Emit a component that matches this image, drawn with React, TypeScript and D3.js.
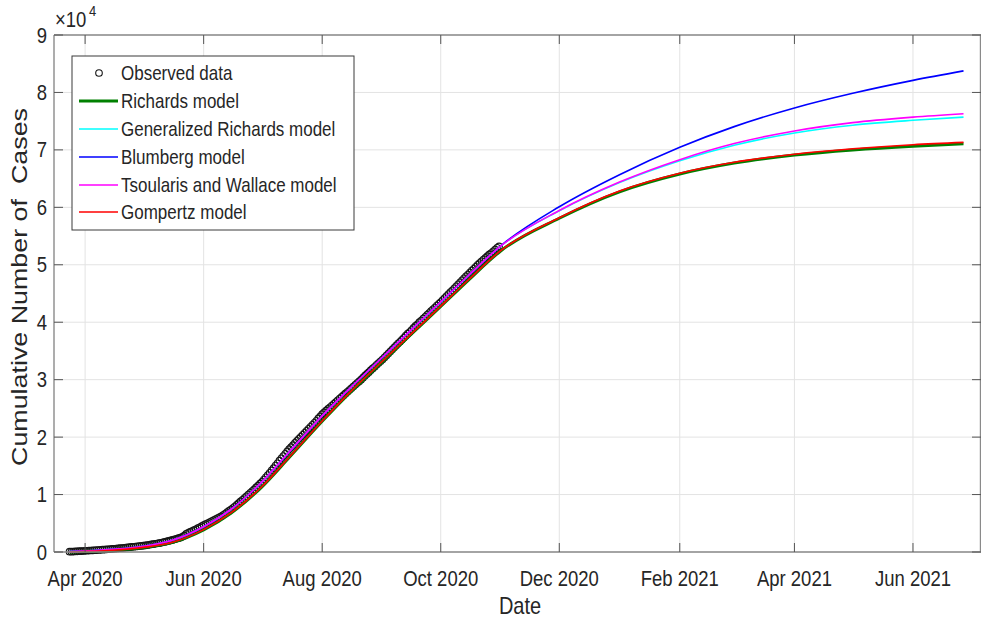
import React from "react";
import * as d3 from "d3";

// ---------- DATA ----------
const observedStart = "2020-03-24";
// daily cumulative cases (observed)
const observedCases = [
  50, 62, 80, 98, 115, 135, 150, 172, 200,
  218, 240, 262, 280, 305, 330, 352, 375, 400,
  425, 455, 480, 510, 540, 570, 600, 630, 665, 700,
  735, 770, 805, 840, 880, 915, 950, 990, 1030, 1065, 1100,
  1150, 1200, 1250, 1310, 1360, 1420, 1480, 1540, 1600,
  1680, 1760, 1840, 1930, 2020, 2110, 2200, 2300, 2400, 2500,
  2650, 2850, 3150, 3350, 3500, 3650, 3800, 3950, 4150, 4300, 4500, 4700,
  4850, 5000, 5180, 5350, 5520, 5700, 5860, 6030, 6200,
  6420, 6650, 6900, 7150, 7400, 7650, 7900,
  8200, 8500, 8800, 9100, 9400, 9700, 10000,
  10300, 10600, 10900, 11250, 11550, 11900, 12200,
  12600, 13000, 13400, 13800, 14200, 14600, 15050, 15450, 15900,
  16300, 16700, 17100, 17500, 17900, 18250, 18600, 19000,
  19350, 19700, 20050, 20400, 20750, 21100, 21450, 21800, 22150, 22500, 22850, 23250, 23600, 24000,
  24300, 24600, 24900, 25200, 25500, 25800, 26100, 26400, 26700, 27000, 27300, 27600, 27900, 28200, 28500, 28800, 29100, 29400, 29700, 30000,
  30350, 30700, 31000, 31300, 31650, 31950, 32250, 32600, 32900, 33200, 33500,
  33850, 34200, 34550, 34900, 35250, 35600, 35950, 36300, 36600, 36950, 37300, 37650, 38000, 38300, 38650, 39000, 39350, 39650, 40000,
  40300, 40650, 40950, 41300, 41600, 41950, 42250, 42550, 42900, 43200, 43500,
  43850, 44200, 44550, 44900, 45250, 45550, 45900, 46250, 46600, 46950, 47300, 47650, 48000, 48300, 48650, 49000, 49300, 49650, 50000,
  50300, 50600, 50900, 51200, 51500, 51800, 52050, 52350, 52650, 52950, 53200,
];

const modelDates = [
  "2020-03-24", "2020-04-15", "2020-05-01", "2020-05-15", "2020-06-01", "2020-06-15",
  "2020-07-01", "2020-07-15", "2020-08-01", "2020-08-15", "2020-09-01", "2020-09-15",
  "2020-10-01", "2020-10-15", "2020-11-01", "2020-12-01", "2021-01-01", "2021-02-01",
  "2021-03-01", "2021-04-01", "2021-05-01", "2021-06-01", "2021-06-27",
];
const richards = [
  0, 290, 780, 1580, 3850, 6750, 11350, 16450, 22750, 27650, 33150, 37650,
  42750, 47250, 52450, 58100, 62700, 65800, 67700, 69100, 70000, 70650, 71050,
];
const generalizedRichards = [
  60, 450, 1000, 1950, 4400, 7400, 12200, 17400, 23700, 28400, 33900, 38400,
  43500, 48000, 53300, 59400, 64300, 68100, 70800, 72950, 74300, 75150, 75700,
];
const blumberg = [
  60, 450, 1000, 1950, 4400, 7400, 12200, 17400, 23700, 28400, 33900, 38400,
  43550, 48050, 53350, 60100, 65680, 70450, 74050, 77300, 79850, 82100, 83750,
];
const tsoularisWallace = [
  60, 450, 1000, 1950, 4400, 7400, 12200, 17400, 23700, 28400, 33900, 38400,
  43550, 48050, 53300, 59450, 64400, 68300, 71100, 73300, 74750, 75700, 76300,
];
const gompertz = [
  0, 300, 800, 1600, 3900, 6800, 11400, 16500, 22800, 27700, 33200, 37700,
  42800, 47300, 52500, 58200, 62850, 65950, 67850, 69250, 70200, 70900, 71300,
];

const xTickDates = [
  "2020-04-01", "2020-06-01", "2020-08-01", "2020-10-01", "2020-12-01",
  "2021-02-01", "2021-04-01", "2021-06-01",
];
const xTickLabels = [
  "Apr 2020", "Jun 2020", "Aug 2020", "Oct 2020", "Dec 2020",
  "Feb 2021", "Apr 2021", "Jun 2021",
];
const yTicks = [0, 1, 2, 3, 4, 5, 6, 7, 8, 9];
const xDomain = ["2020-03-16", "2021-07-06"];

const seriesNames = [
  "Observed data",
  "Richards model",
  "Generalized Richards model",
  "Blumberg model",
  "Tsoularis and Wallace model",
  "Gompertz model",
];

// ---------- CHART ----------
const W = 981;
const H = 622;
const M = { left: 54, right: 981, top: 35, bottom: 552 };
const FONT = "'Liberation Sans', Arial, Helvetica, sans-serif";
const TXT = "#262626";
const SY = 1.18; // vertical text stretch

const parse = d3.utcParse("%Y-%m-%d");

export default function App() {
  const x = d3
    .scaleUtc()
    .domain(xDomain.map((d) => parse(d) as Date))
    .range([M.left, M.right]);
  const y = d3.scaleLinear().domain([0, 90000]).range([M.bottom, M.top]);

  const start = parse(observedStart) as Date;
  const obs = observedCases.map((v, i) => ({ d: d3.utcDay.offset(start, i), v }));
  const md = modelDates.map((d) => parse(d) as Date);

  const line = d3
    .line<number>()
    .x((_, i) => x(md[i]))
    .y((v) => y(v))
    .curve(d3.curveMonotoneX);

  const models = [
    { name: seriesNames[1], vals: richards, color: "#008000", w: 3 },
    { name: seriesNames[2], vals: generalizedRichards, color: "#00ffff", w: 1.6 },
    { name: seriesNames[3], vals: blumberg, color: "#0000ff", w: 1.6 },
    { name: seriesNames[4], vals: tsoularisWallace, color: "#ff00ff", w: 1.6 },
    { name: seriesNames[5], vals: gompertz, color: "#ff0000", w: 1.6 },
  ];

  const stretched = (tx: number, ty: number, content: React.ReactNode, props: any = {}) => (
    <text
      transform={`translate(${tx},${ty}) scale(1,${SY})`}
      fontFamily={FONT}
      fill={TXT}
      {...props}
    >
      {content}
    </text>
  );

  const legendX = 72;
  const legendY = 56;
  const legendW = 282;
  const legendH = 174;
  const rowY = [73, 101, 129, 157, 185, 212];

  return (
    <svg
      width={W}
      height={H}
      style={{ position: "absolute", left: 0, top: 0, background: "#fff" }}
    >
      <rect x={0} y={0} width={W} height={H} fill="#fff" />
      {/* grid */}
      <g stroke="#e3e3e3" strokeWidth={1}>
        {xTickDates.map((d) => {
          const xx = x(parse(d) as Date);
          return <line key={d} x1={xx} x2={xx} y1={M.top} y2={M.bottom} />;
        })}
        {yTicks.map((t) => (
          <line key={t} x1={M.left} x2={M.right} y1={y(t * 1e4)} y2={y(t * 1e4)} />
        ))}
      </g>

      {/* observed */}
      <g fill="none" stroke="#151515" strokeWidth={1.1}>
        {obs.map((p, i) => (
          <circle key={i} cx={x(p.d)} cy={y(p.v)} r={3.3} />
        ))}
      </g>

      {/* models */}
      {models.map((m) => (
        <path key={m.name} d={line(m.vals) || ""} fill="none" stroke={m.color} strokeWidth={m.w} />
      ))}

      {/* axes box */}
      <g stroke="#8a8a8a" strokeWidth={1.4} fill="none">
        <line x1={M.left} x2={M.right} y1={M.bottom} y2={M.bottom} />
        <line x1={M.left} x2={M.right} y1={M.top} y2={M.top} />
        <line x1={M.left} x2={M.left} y1={M.top} y2={M.bottom} />
        <line x1={M.right - 0.5} x2={M.right - 0.5} y1={M.top} y2={M.bottom} />
      </g>
      {/* ticks */}
      <g stroke="#555" strokeWidth={1}>
        {xTickDates.map((d) => {
          const xx = x(parse(d) as Date);
          return (
            <g key={d}>
              <line x1={xx} x2={xx} y1={M.bottom} y2={M.bottom - 9} />
              <line x1={xx} x2={xx} y1={M.top} y2={M.top + 9} />
            </g>
          );
        })}
        {yTicks.map((t) => (
          <g key={t}>
            <line x1={M.left} x2={M.left + 9} y1={y(t * 1e4)} y2={y(t * 1e4)} />
            <line x1={M.right} x2={M.right - 9} y1={y(t * 1e4)} y2={y(t * 1e4)} />
          </g>
        ))}
      </g>

      {/* tick labels */}
      {xTickDates.map((d, i) =>
        stretched(x(parse(d) as Date), 586, xTickLabels[i], {
          key: d,
          fontSize: 18.5,
          textAnchor: "middle",
        })
      )}
      {yTicks.map((t) =>
        stretched(47, y(t * 1e4) + 7.5, String(t), {
          key: "y" + t,
          fontSize: 18.5,
          textAnchor: "end",
        })
      )}

      {/* exponent */}
      {stretched(55, 27, "×10", { fontSize: 18.5 })}
      {stretched(89, 16, "4", { fontSize: 13 })}

      {/* axis labels */}
      {stretched(520, 614, "Date", { fontSize: 20, textAnchor: "middle" })}
      <text
        transform={`translate(27,287) rotate(-90)`}
        fontFamily={FONT}
        fill={TXT}
        fontSize={22}
        textAnchor="middle"
        textLength={358}
        lengthAdjust="spacingAndGlyphs"
        style={{ whiteSpace: "pre" }}
      >
        {"Cumulative Number of  Cases"}
      </text>

      {/* legend */}
      <rect
        x={legendX}
        y={legendY}
        width={legendW}
        height={legendH}
        fill="#fff"
        stroke="#3a3a3a"
        strokeWidth={1}
      />
      <circle cx={99} cy={rowY[0]} r={3.3} fill="none" stroke="#151515" strokeWidth={1.1} />
      {models.map((m, i) => (
        <line
          key={m.name}
          x1={79}
          x2={118}
          y1={rowY[i + 1]}
          y2={rowY[i + 1]}
          stroke={m.color}
          strokeWidth={m.w}
        />
      ))}
      {seriesNames.map((n, i) =>
        stretched(121, rowY[i] + 6.5, n, { key: n, fontSize: 17 })
      )}
    </svg>
  );
}
